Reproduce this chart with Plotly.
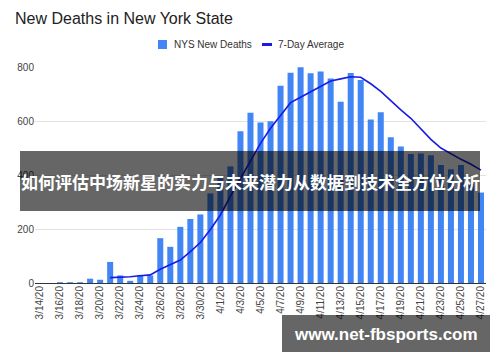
import plotly.graph_objects as go

# ---- data ----
dates = ["3/14/20","3/15/20","3/16/20","3/17/20","3/18/20","3/19/20","3/20/20","3/21/20",
         "3/22/20","3/23/20","3/24/20","3/25/20","3/26/20","3/27/20","3/28/20","3/29/20",
         "3/30/20","3/31/20","4/1/20","4/2/20","4/3/20","4/4/20","4/5/20","4/6/20",
         "4/7/20","4/8/20","4/9/20","4/10/20","4/11/20","4/12/20","4/13/20","4/14/20",
         "4/15/20","4/16/20","4/17/20","4/18/20","4/19/20","4/20/20","4/21/20","4/22/20",
         "4/23/20","4/24/20","4/25/20","4/26/20","4/27/20"]
new_deaths = [0, 0, 3, 3, 3, 16, 12, 78,
              28, 8, 30, 28, 166, 134, 208, 237,
              254, 332, 391, 432, 562, 631, 594, 599,
              731, 779, 799, 777, 783, 757, 671, 778,
              752, 606, 632, 540, 506, 478, 480, 473,
              437, 421, 437, 367, 335]
avg_dates = dates[7:]
avg_values = [20, 21, 23, 27, 30, 51, 67, 85, 116, 150, 198, 252, 322, 387, 455, 517,
              573, 622, 668, 688, 709, 727, 748, 756, 764, 762, 738, 710, 675, 641,
              610, 570, 532, 500, 478, 458, 440, 418]
tick_labels = dates[::2]
y_ticks = [0, 200, 400, 600, 800]

title_text = "New Deaths in New York State"
bar_name = "NYS New Deaths"
line_name = "7-Day Average"
banner_text = "如何评估中场新星的实力与未来潜力从数据到技术全方位分析"
watermark_text = "www.net-fbsports.com"

BAR_COLOR = "#4285F4"
LINE_COLOR = "#1a1ae6"

# ---- layout geometry (pixels) ----
W, H = 500, 362
L, R, T, B = 35, 486, 67, 283


def px(x):
    return (x - L) / (R - L)


def py(y):
    return (B - y) / (B - T)


fig = go.Figure()
fig.add_trace(go.Bar(x=dates, y=new_deaths, name=bar_name,
                     marker=dict(color=BAR_COLOR, line=dict(width=0))))
fig.add_trace(go.Scatter(x=avg_dates, y=avg_values, name=line_name, mode="lines",
                         line=dict(color=LINE_COLOR, width=1.6)))

fig.update_layout(
    width=W, height=H,
    margin=dict(l=L, r=W - R, t=T, b=H - B, pad=0, autoexpand=False),
    paper_bgcolor="white", plot_bgcolor="white",
    font=dict(family="Liberation Sans, Arial, sans-serif", size=10, color="#444444"),
    bargap=0.4,
    showlegend=False,
    xaxis=dict(type="category", categoryorder="array", categoryarray=dates,
               range=[-0.5, len(dates) - 0.5], automargin=False,
               tickmode="array", tickvals=tick_labels, ticktext=tick_labels,
               tickangle=-90, ticks="", showgrid=False, showline=False,
               zeroline=False, tickfont=dict(size=10, color="#444444")),
    yaxis=dict(range=[0, 800], tickmode="array", tickvals=y_ticks, automargin=False,
               showgrid=True, gridcolor="#e2e2e2", gridwidth=1,
               zeroline=True, zerolinecolor="#333333", zerolinewidth=1,
               ticks="", showline=False, tickfont=dict(size=10, color="#444444")),
)

# title
fig.add_annotation(xref="paper", yref="paper", x=px(13), y=py(18),
                   text=title_text, showarrow=False, xanchor="left", yanchor="middle",
                   font=dict(size=16, color="#222222"))

# legend (drawn manually to match compact symbols)
fig.add_shape(type="rect", xref="paper", yref="paper",
              x0=px(158), x1=px(167), y0=py(49), y1=py(40),
              fillcolor=BAR_COLOR, line=dict(width=0))
fig.add_annotation(xref="paper", yref="paper", x=px(172), y=py(44.5),
                   text=bar_name, showarrow=False, xanchor="left", yanchor="middle",
                   font=dict(size=10, color="#333333"))
fig.add_shape(type="line", xref="paper", yref="paper",
              x0=px(262), x1=px(272), y0=py(44.5), y1=py(44.5),
              line=dict(color=LINE_COLOR, width=3))
fig.add_annotation(xref="paper", yref="paper", x=px(276), y=py(44.5),
                   text=line_name, showarrow=False, xanchor="left", yanchor="middle",
                   font=dict(size=10, color="#333333"))

# overlay banner
fig.add_shape(type="rect", xref="paper", yref="paper",
              x0=px(20), x1=px(480), y0=py(211), y1=py(151),
              fillcolor="rgba(0,0,0,0.6)", line=dict(width=0), layer="above")
fig.add_annotation(xref="paper", yref="paper", x=px(250), y=py(181),
                   text="<b>" + banner_text + "</b>", showarrow=False,
                   xanchor="center", yanchor="middle",
                   font=dict(family="Noto Sans CJK SC", size=17, color="white"))
# watermark
fig.add_shape(type="rect", xref="paper", yref="paper",
              x0=px(282), x1=px(490), y0=py(352), y1=py(315),
              fillcolor="rgba(0,0,0,0.6)", line=dict(width=0), layer="above")
fig.add_annotation(xref="paper", yref="paper", x=px(386), y=py(334),
                   text="<b>" + watermark_text + "</b>", showarrow=False,
                   xanchor="center", yanchor="middle",
                   font=dict(family="Liberation Sans, Arial, sans-serif", size=17, color="white"))

fig.write_html("out.html",
               config={"displayModeBar": False, "staticPlot": True},
               post_script="document.body.style.margin='0';document.body.style.overflow='hidden';")
